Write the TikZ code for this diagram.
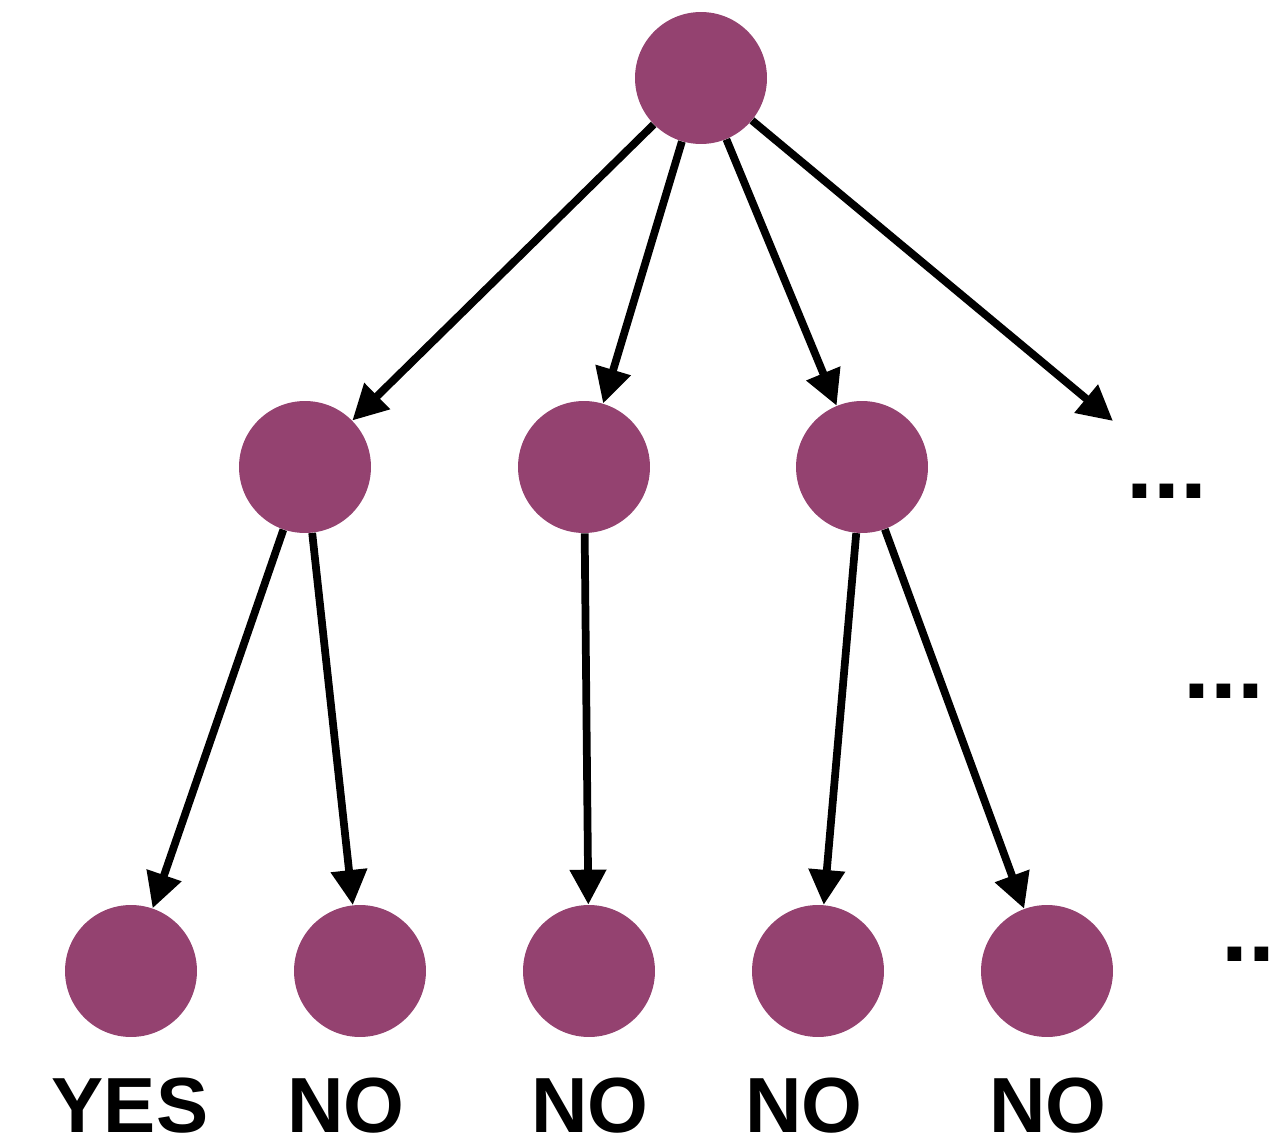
\documentclass[tikz,border=0pt]{standalone}
\usepackage{fontspec}
\setmainfont{Liberation Sans}
\usetikzlibrary{arrows.meta}
\definecolor{nodeplum}{RGB}{148,66,112}
\tikzset{
  vertex/.style={circle, fill=nodeplum, draw=none, inner sep=0pt, minimum size=2.64cm},
  edge/.style={line width=4.4pt, -{Triangle[length=0.7cm,width=0.7cm]}},
  answer/.style={anchor=base, inner sep=0pt, font=\fontsize{44.5}{50}\selectfont\bfseries},
  more/.style={anchor=base west, inner sep=0pt, font=\fontsize{55}{60}\selectfont\bfseries}
}
\begin{document}
\begin{tikzpicture}[x=0.02cm, y=-0.02cm]
  \clip (0,0) rectangle (1281,1138);
  \useasboundingbox (0,0) rectangle (1281,1138);

  % tree nodes
  \node[vertex] (root) at (701,78) {};
  \node[vertex] (m1) at (305,467) {};
  \node[vertex] (m2) at (584,467) {};
  \node[vertex] (m3) at (862,467) {};
  \node[vertex] (b1) at (131,971) {};
  \node[vertex] (b2) at (360,971) {};
  \node[vertex] (b3) at (589,971) {};
  \node[vertex] (b4) at (818,971) {};
  \node[vertex] (b5) at (1047,971) {};
  \coordinate (rest) at (1113,421);

  % edges
  \draw[edge] (root) -- (m1);
  \draw[edge] (root) -- (m2);
  \draw[edge] (root) -- (m3);
  \draw[edge] (root) -- (rest);
  \draw[edge] (m1) -- (b1);
  \draw[edge] (m1) -- (b2);
  \draw[edge] (m2) -- (b3);
  \draw[edge] (m3) -- (b4);
  \draw[edge] (m3) -- (b5);

  % answers under the leaves
  \node[answer] (l1) at (130,1132) {YES};
  \node[answer] (l2) at (346,1132) {NO};
  \node[answer] (l3) at (590,1132) {NO};
  \node[answer] (l4) at (804,1132) {NO};
  \node[answer] (l5) at (1048,1132) {NO};

  % ellipses for the omitted branches
  \node[more] (d1) at (1126,498) {...};
  \node[more] (d2) at (1183,698) {...};
  \node[more] (d3) at (1221,961) {...};
\end{tikzpicture}
\end{document}
